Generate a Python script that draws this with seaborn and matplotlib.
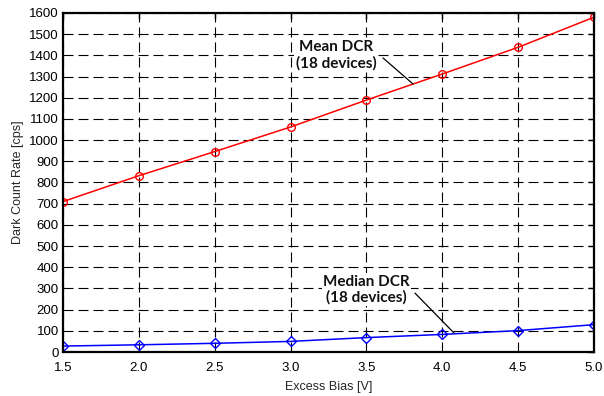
import matplotlib
matplotlib.use("Agg")
import matplotlib.pyplot as plt
import seaborn as sns
import pandas as pd

# Excess bias steps and dark count rates (cps)
bias_v = [1.5, 2.0, 2.5, 3.0, 3.5, 4.0, 4.5, 5.0]
mean_dcr = [710, 832, 946, 1062, 1189, 1312, 1438, 1580]
median_dcr = [28, 34, 41, 50, 68, 83, 101, 129]

x_ticks = [1.5, 2.0, 2.5, 3.0, 3.5, 4.0, 4.5, 5.0]
y_ticks = list(range(0, 1700, 100))

sns.set_style("white")
plt.rcParams["font.family"] = ["Liberation Sans", "DejaVu Sans"]

df = pd.DataFrame({"bias": bias_v, "mean": mean_dcr, "median": median_dcr})

fig = plt.figure(figsize=(6.04, 3.96), dpi=100)
ax = fig.add_axes([0.1043, 0.1111, 0.8791, 0.8561])

sns.lineplot(data=df, x="bias", y="mean", ax=ax, color="red", lw=1.1,
             marker="o", markersize=5.5, markerfacecolor="none",
             markeredgecolor="red", markeredgewidth=1.0)
sns.lineplot(data=df, x="bias", y="median", ax=ax, color="blue", lw=1.1,
             marker="D", markersize=5, markerfacecolor="none",
             markeredgecolor="blue", markeredgewidth=1.0)

ax.set_xlim(1.5, 5.0)
ax.set_ylim(0, 1600)
ax.set_xticks(x_ticks)
ax.set_xticklabels([f"{v:.1f}" for v in x_ticks])
ax.set_yticks(y_ticks)
ax.set_yticklabels([str(v) for v in y_ticks])

ax.grid(True, color="black", linestyle=(0, (9, 4.5)), linewidth=0.8)
ax.set_axisbelow(True)
for s in ax.spines.values():
    s.set_color("black")
    s.set_linewidth(1.6)
    s.set_visible(True)

ax.tick_params(direction="in", length=4, width=1, labelsize=9.5,
               colors="black", top=True, right=True)
ax.tick_params(axis="x", pad=7)
ax.tick_params(axis="y", pad=3)

ax.set_xlabel("Excess Bias [V]", fontsize=9, labelpad=5)
ax.set_ylabel("Dark Count Rate [cps]", fontsize=9, labelpad=4)

# Callout labels with leader lines
ann_font = dict(fontsize=11, fontweight="bold", family=["Lato", "DejaVu Sans"],
                ha="center", va="center", linespacing=1.15, color="#111111",
                bbox=dict(facecolor="white", edgecolor="none", pad=1.0),
                zorder=5)
leader = dict(arrowstyle="-", color="black", lw=0.9, shrinkA=0, shrinkB=0)

ax.text(3.30, 1400, "Mean DCR\n(18 devices)", **ann_font)
ax.annotate("", xy=(3.807, 1265), xytext=(3.609, 1388), arrowprops=leader)

ax.text(3.50, 293, "Median DCR\n(18 devices)", **ann_font)
ax.annotate("", xy=(4.077, 90), xytext=(3.820, 278), arrowprops=leader)

fig.savefig("out.png", dpi=100)
